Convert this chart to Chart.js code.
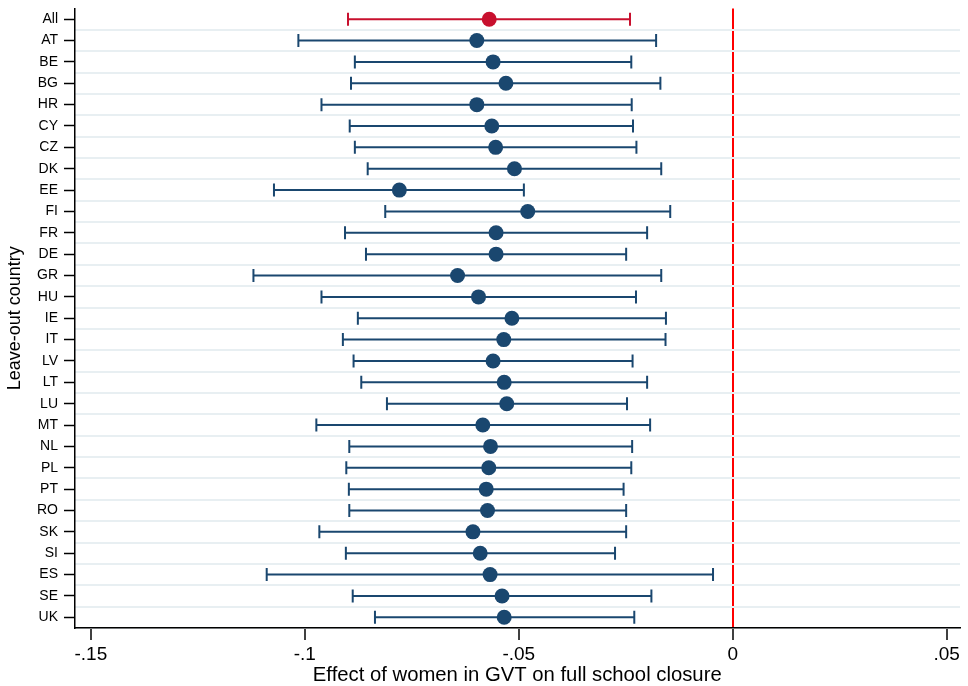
<!DOCTYPE html>
<html><head><meta charset="utf-8">
<script src="https://cdn.jsdelivr.net/npm/chart.js@4"></script>
<style>html,body{margin:0;padding:0;background:#fff}#wrap{width:968px;height:686px}</style>
</head><body><div id="wrap"><canvas id="c" width="968" height="686"></canvas></div>
<script>
const countries = ['All','AT','BE','BG','HR','CY','CZ','DK','EE','FI','FR','DE','GR','HU','IE','IT','LV','LT','LU','MT','NL','PL','PT','RO','SK','SI','ES','SE','UK'];
const estimates = [-0.0569,-0.0598,-0.0560,-0.0530,-0.0598,-0.0563,-0.0554,-0.0510,-0.0779,-0.0479,-0.0553,-0.0553,-0.0643,-0.0594,-0.0516,-0.0535,-0.0560,-0.0534,-0.0528,-0.0584,-0.0566,-0.0570,-0.0576,-0.0573,-0.0607,-0.0590,-0.0567,-0.0539,-0.0534];
const lower = [-0.0899,-0.1015,-0.0883,-0.0892,-0.0961,-0.0895,-0.0883,-0.0853,-0.1072,-0.0812,-0.0906,-0.0857,-0.1120,-0.0961,-0.0876,-0.0911,-0.0886,-0.0868,-0.0808,-0.0973,-0.0896,-0.0903,-0.0897,-0.0896,-0.0966,-0.0904,-0.1089,-0.0888,-0.0836];
const upper = [-0.0240,-0.0179,-0.0237,-0.0169,-0.0236,-0.0233,-0.0225,-0.0167,-0.0488,-0.0146,-0.0200,-0.0249,-0.0167,-0.0226,-0.0156,-0.0157,-0.0234,-0.0200,-0.0247,-0.0193,-0.0235,-0.0237,-0.0255,-0.0249,-0.0249,-0.0275,-0.0046,-0.0190,-0.0230];
const xTicks = [-0.15,-0.1,-0.05,0,0.05];
const xTickLabels = ['-.15','-.1','-.05','0','.05'];

const FAM = '"Liberation Sans", Arial, Helvetica, sans-serif';
const NAVY = '#1a476f', RED = '#c8102e';
const colorFor = i => i === 0 ? RED : NAVY;

const barSets = countries.map((c, i) => ({
  data: [{x: lower[i], y: c}, {x: upper[i], y: c}],
  showLine: true,
  borderColor: colorFor(i),
  borderWidth: 2,
  pointStyle: 'line',
  pointRotation: 90,
  pointRadius: 6.5,
  pointHoverRadius: 6.5,
  pointBorderColor: colorFor(i),
  pointBorderWidth: 2,
  order: 1
}));
const pointSet = {
  data: countries.map((c, i) => ({x: estimates[i], y: c})),
  pointRadius: 7.5,
  pointHoverRadius: 7.5,
  pointBackgroundColor: countries.map((c, i) => colorFor(i)),
  pointBorderWidth: 0,
  showLine: false,
  order: 0
};

const noPad = s => { s.paddingTop = 0; s.paddingBottom = 0; s.paddingLeft = 0; s.paddingRight = 0; };

new Chart(document.getElementById('c'), {
  type: 'scatter',
  data: {datasets: [pointSet, ...barSets]},
  options: {
    responsive: false,
    animation: false,
    events: [],
    layout: {padding: {top: 7, right: 1, bottom: 0, left: 0}},
    plugins: {legend: {display: false}, tooltip: {enabled: false}},
    scales: {
      x: {
        type: 'linear', min: -0.1537, max: 0.0530,
        afterBuildTicks: s => { s.ticks = xTicks.map(v => ({value: v})); },
        afterFit: s => { s.height = 58; noPad(s); },
        ticks: {callback: (v, i) => xTickLabels[i], font: {size: 19, family: FAM}, color: '#000', padding: 3, maxRotation: 0, autoSkip: false},
        grid: {color: ctx => (ctx.tick && ctx.tick.value === 0) ? '#ff0000' : 'rgba(0,0,0,0)', lineWidth: 2, tickColor: '#000', tickLength: 12, tickWidth: 1.5},
        border: {color: '#000', width: 1.5},
        title: {display: true, text: 'Effect of women in GVT on full school closure', font: {size: 20.3, family: FAM}, color: '#000', padding: {top: 0, bottom: -2}}
      },
      y: {
        type: 'category', labels: countries, offset: true, position: 'left',
        afterFit: s => { s.width = 75; noPad(s); },
        ticks: {font: {size: 14, family: FAM}, color: '#000', padding: 6, autoSkip: false},
        grid: {drawOnChartArea: false, offset: false, tickColor: '#000', tickLength: 11, tickWidth: 1.5},
        border: {color: '#000', width: 1.5},
        title: {display: true, text: 'Leave-out country', font: {size: 18, family: FAM}, color: '#000', padding: {top: 4, bottom: 0}}
      },
      yGrid: {
        type: 'category', labels: countries, offset: true, position: 'right',
        afterFit: s => { s.width = 0; noPad(s); },
        ticks: {display: false},
        grid: {offset: true, drawTicks: false, lineWidth: 2,
               color: ctx => (ctx.index === 0 || ctx.index >= countries.length) ? 'rgba(0,0,0,0)' : '#e8eff2'},
        border: {display: false}
      }
    }
  }
});
</script></body></html>
